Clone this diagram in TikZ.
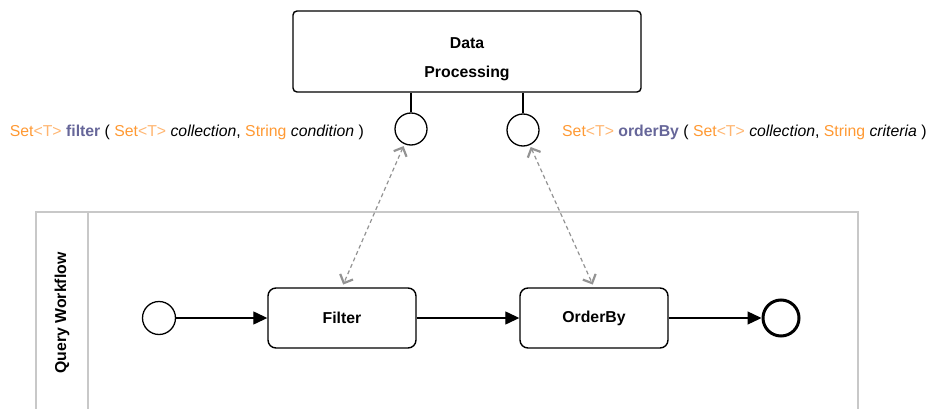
\documentclass[tikz,border=0pt]{standalone}
\usepackage{fontspec}
\setmainfont{Liberation Sans}
\usetikzlibrary{positioning,arrows.meta}
\usepackage{xcolor}
\definecolor{sigorange}{HTML}{FF9933}
\definecolor{sigpale}{HTML}{FFB570}
\definecolor{sigpurple}{HTML}{666699}
\definecolor{poolgray}{HTML}{C8C8C8}
\newcommand{\settype}{\textcolor{sigorange}{Set}\textcolor{sigpale}{<T>}}

\begin{document}
\begin{tikzpicture}[x=1pt,y=-1pt,>={Triangle[length=14pt,width=13pt]},
  lbl/.style={font=\fontsize{15.8}{29}\selectfont},
  bold/.style={lbl,font=\fontsize{15.8}{29}\selectfont\bfseries},
  task/.style={draw,line width=1.4pt,rounded corners=8pt,minimum width=148pt,minimum height=60pt,bold},
  iface/.style={draw,line width=1.3pt,circle,minimum size=32pt,inner sep=0pt},
  link/.style={gray!85,line width=1.2pt,dash pattern=on 4pt off 3pt,
    {Straight Barb[length=7pt,width=14pt,line width=2.2pt]}-{Straight Barb[length=7pt,width=14pt,line width=2.2pt]},shorten <=2pt,shorten >=3pt},
  flow/.style={->,line width=1.3pt}]
\useasboundingbox (0,0) rectangle (928,409);
% component and its interfaces
\node[draw,line width=1.4pt,rounded corners=4pt,minimum width=348pt,minimum height=81pt] (proc) at (467,51.5) {};
\node[bold,align=center] (proclbl) at (467,59) {Data\\Processing};
\node[iface] (ifl) at (411,129) {};
\node[iface] (ifr) at (523,130) {};
\draw[line width=1.3pt] (proc.south -| ifl) -- (ifl);
\draw[line width=1.3pt] (proc.south -| ifr) -- (ifr);
\node[lbl,anchor=east,inner sep=0pt] (sigl) at (364,132) {\settype{} \textcolor{sigpurple}{\bfseries filter} ( \settype{} \textit{collection}, \textcolor{sigorange}{String} \textit{condition} )};
\node[lbl,anchor=west,inner sep=0pt] (sigr) at (562,132) {\settype{} \textcolor{sigpurple}{\bfseries orderBy} ( \settype{} \textit{collection}, \textcolor{sigorange}{String} \textit{criteria} )};
% pool
\draw[poolgray,line width=1.5pt] (36,409) |- (858,212) -- (858,409);
\draw[poolgray,line width=1.5pt] (88,212) -- (88,409);
\node[bold,rotate=90] (lane) at (62,313) {Query Workflow};
% process
\node[draw,line width=1.3pt,circle,minimum size=33pt,inner sep=0pt] (start) at (159,318) {};
\node[task] (filter) at (342,318) {Filter};
\node[task] (orderby) at (594,318) {OrderBy};
\node[draw,line width=3pt,circle,minimum size=36pt,inner sep=0pt] (stop) at (781,318) {};
\draw[flow] (start) -- (filter);
\draw[flow] (filter) -- (orderby);
\draw[flow] (orderby) -- (stop);
\draw[link] (ifl) -- (filter.north);
\draw[link] (ifr) -- (orderby.north);
\end{tikzpicture}
\end{document}
